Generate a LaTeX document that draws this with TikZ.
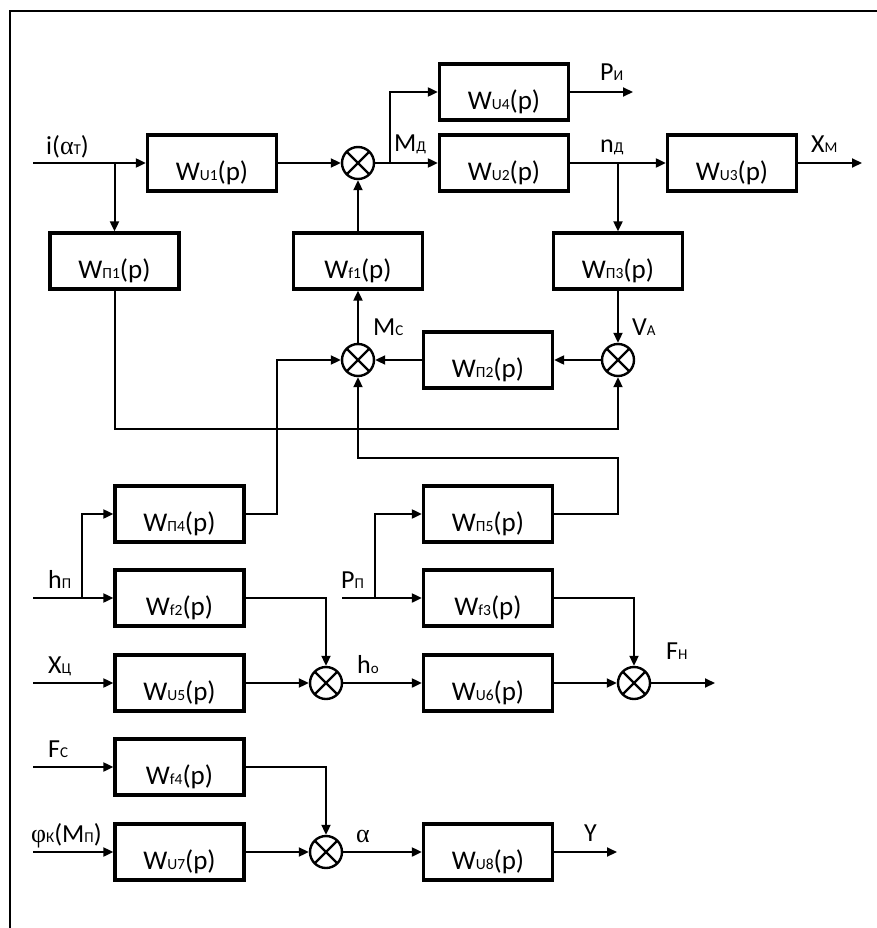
\documentclass[tikz,border=0pt]{standalone}
\usepackage{fontspec}
\setmainfont{Carlito}
\newfontfamily\grk{Liberation Serif}
\usetikzlibrary{arrows.meta}
\newcommand\sbs[1]{{\fontsize{15}{15}\selectfont #1}}
\newcommand\bsub[1]{{\fontsize{15.5}{15.5}\selectfont #1}}
\begin{document}
\begin{tikzpicture}[x=1pt,y=-1pt,
  blk/.style={draw, line width=3.3pt, minimum width=129pt, minimum height=56pt,
    inner sep=2pt, font=\fontsize{27}{27}\selectfont, text height=35pt, text depth=0pt},
  sumj/.style={draw, circle, line width=2.4pt, minimum size=32pt, inner sep=0pt,
    path picture={\draw[line width=2.4pt]
      (path picture bounding box.north west) -- (path picture bounding box.south east)
      (path picture bounding box.north east) -- (path picture bounding box.south west);}},
  conn/.style={line width=2pt, -{Triangle[length=10pt,width=9pt]}},
  lbl/.style={anchor=base west, inner sep=0pt, font=\fontsize{26}{26}\selectfont}]
\useasboundingbox (0,0) rectangle (877,928);
\draw[line width=1.5pt] (10,928) -- (10,11) -- (877,11);
% blocks
\node[blk] (u1) at (212,163) {W\bsub{U1}(p)};
\node[blk] (p1) at (114.5,261) {W\bsub{П1}(p)};
\node[blk] (f1) at (358,261) {W\bsub{f1}(p)};
\node[blk] (u4) at (504,92) {W\bsub{U4}(p)};
\node[blk] (u2) at (504,163) {W\bsub{U2}(p)};
\node[blk] (u3) at (732,163) {W\bsub{U3}(p)};
\node[blk] (p3) at (618,261) {W\bsub{П3}(p)};
\node[blk] (p2) at (488,360) {W\bsub{П2}(p)};
\node[blk] (p4) at (179.5,514) {W\bsub{П4}(p)};
\node[blk] (p5) at (488,514) {W\bsub{П5}(p)};
\node[blk] (f2) at (179.5,598) {W\bsub{f2}(p)};
\node[blk] (f3) at (488,598) {W\bsub{f3}(p)};
\node[blk] (u5) at (179.5,683) {W\bsub{U5}(p)};
\node[blk] (u6) at (488,683) {W\bsub{U6}(p)};
\node[blk] (f4) at (179.5,767) {W\bsub{f4}(p)};
\node[blk] (u7) at (179.5,852) {W\bsub{U7}(p)};
\node[blk] (u8) at (488,852) {W\bsub{U8}(p)};
% summing junctions
\node[sumj] (s1) at (358,163) {};
\node[sumj] (s2) at (358,360) {};
\node[sumj] (s3) at (618,360) {};
\node[sumj] (s4) at (326,683) {};
\node[sumj] (s5) at (326,852) {};
\node[sumj] (s6) at (634,683) {};
% free ends and bends
\coordinate (in1) at (33,163);
\coordinate (bm) at (390,163);
\coordinate (pi) at (633,92);
\coordinate (xm) at (862,163);
\coordinate (fb1) at (114,429);
\coordinate (fb2) at (618,458);
\coordinate (r4) at (277,514);
\coordinate (inh) at (33,598);
\coordinate (bh) at (82,598);
\coordinate (inp) at (342,598);
\coordinate (bp) at (375,598);
\coordinate (inx) at (33,683);
\coordinate (fh) at (715,683);
\coordinate (inf) at (33,767);
\coordinate (inphi) at (33,852);
\coordinate (yout) at (617,852);
% connectors
\draw[conn] (in1) -- (u1.west);
\draw[conn] (p1.north |- u1.west) -- (p1.north);
\draw[conn] (u1.east) -- (s1.west);
\draw[conn] (f1.north) -- (s1.south);
\draw[conn] (s1.east) -- (u2.west);
\draw[conn] (bm) |- (u4.west);
\draw[conn] (u4.east) -- (pi);
\draw[conn] (u2.east) -- (u3.west);
\draw[conn] (p3.north |- u2.east) -- (p3.north);
\draw[conn] (u3.east) -- (xm);
\draw[conn] (p3.south) -- (s3.north);
\draw[conn] (s3.west) -- (p2.east);
\draw[conn] (p2.west) -- (s2.east);
\draw[conn] (s2.north) -- (f1.south);
\draw[conn] (p1.south) -- (p1.south |- fb1) -| (s3.south);
\draw[conn] (p5.east) -| (fb2) -| (s2.south);
\draw[conn] (p4.east) -- (r4) |- (s2.west);
\draw[conn] (inh) -- (f2.west);
\draw[conn] (bh) |- (p4.west);
\draw[conn] (inp) -- (f3.west);
\draw[conn] (bp) |- (p5.west);
\draw[conn] (f2.east) -| (s4.north);
\draw[conn] (inx) -- (u5.west);
\draw[conn] (u5.east) -- (s4.west);
\draw[conn] (s4.east) -- (u6.west);
\draw[conn] (u6.east) -- (s6.west);
\draw[conn] (f3.east) -| (s6.north);
\draw[conn] (s6.east) -- (fh);
\draw[conn] (inf) -- (f4.west);
\draw[conn] (f4.east) -| (s5.north);
\draw[conn] (inphi) -- (u7.west);
\draw[conn] (u7.east) -- (s5.west);
\draw[conn] (s5.east) -- (u8.west);
\draw[conn] (u8.east) -- (yout);
% labels
\node[lbl] (l1) at (46,155) {i({\grk α}\sbs{Т})};
\node[lbl] (l2) at (394,152) {M\sbs{Д}};
\node[lbl] (l3) at (600,81) {P\sbs{И}};
\node[lbl] (l4) at (600,153) {n\sbs{Д}};
\node[lbl] (l5) at (811,153) {X\sbs{M}};
\node[lbl] (l6) at (373,335) {M\sbs{C}};
\node[lbl] (l7) at (632,335) {V\sbs{A}};
\node[lbl] (l8) at (48,588) {h\sbs{П}};
\node[lbl] (l9) at (341,588) {P\sbs{П}};
\node[lbl] (l10) at (357,673) {h\sbs{o}};
\node[lbl] (l11) at (48,673) {X\sbs{Ц}};
\node[lbl] (l12) at (48,757) {F\sbs{C}};
\node[lbl] (l13) at (31,842) {{\grk φ}\sbs{К}(M\sbs{П})};
\node[lbl] (l14) at (356,842) {{\grk α}};
\node[lbl] (l15) at (666,659) {F\sbs{H}};
\node[lbl] (l16) at (584,841) {Y};
\end{tikzpicture}
\end{document}
